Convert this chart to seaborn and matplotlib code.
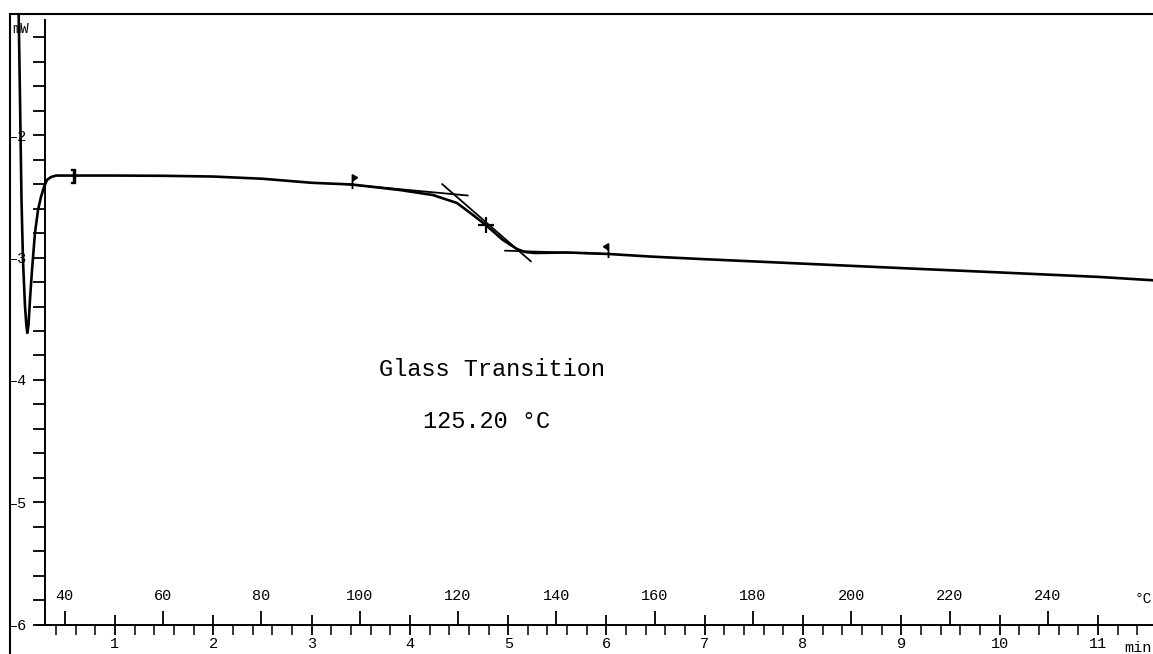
import numpy as np
import pandas as pd
import seaborn as sns
import matplotlib.pyplot as plt
from matplotlib.path import Path
from matplotlib.ticker import FixedLocator

# DSC heat flow curve (time in min, heat flow in mW)
time_min = [0.018, 0.034, 0.049, 0.064, 0.084, 0.098, 0.108, 0.12, 0.135, 0.156,
            0.186, 0.217, 0.247, 0.278, 0.308, 0.349, 0.4, 0.573, 1.0, 1.5,
            2.0, 2.5, 3.0, 3.41, 3.9, 4.235, 4.479, 4.642, 4.77, 4.947,
            5.09, 5.171, 5.272, 5.598, 6.015, 6.443, 6.951, 7.968, 8.985, 10.003,
            11.02, 11.6]
heat_flow = [-0.9, -1.714, -2.531, -3.02, -3.388, -3.551, -3.616, -3.551, -3.347, -3.102,
             -2.8, -2.612, -2.506, -2.424, -2.367, -2.343, -2.331, -2.331, -2.331, -2.333,
             -2.339, -2.357, -2.39, -2.404, -2.449, -2.49, -2.555, -2.653, -2.733, -2.857,
             -2.931, -2.955, -2.963, -2.959, -2.971, -2.992, -3.012, -3.049, -3.086, -3.122,
             -3.159, -3.188]

# evaluation construction lines
onset_tangent_t = [3.30, 4.59]
onset_tangent_y = [-2.398, -2.494]
step_tangent_t = [4.327, 5.232]
step_tangent_y = [-2.400, -3.032]
end_tangent_t = [4.967, 6.015]
end_tangent_y = [-2.944, -2.971]

# evaluation limits, midpoint and start bracket
limit_t = [3.41, 6.015]
limit_y = [-2.404, -2.971]
tg_t = [4.77]
tg_y = [-2.733]
bracket_t = [0.573]
bracket_y = [-2.331]

y_ticks = [-6, -5, -4, -3, -2]
y_labels = ['\u20136', '\u20135', '\u20134', '\u20133', '\u20132']
min_ticks = list(range(1, 12))
temp_ticks = list(range(40, 241, 20))

tg_label = 'Glass Transition'
tg_value = '125.20 °C'


def min_to_c(t):
    return 30.2 + 20.0 * np.asarray(t)


def c_to_min(c):
    return (np.asarray(c) - 30.2) / 20.0


sns.set_theme(style='white')
plt.rcParams['font.family'] = ['Liberation Mono', 'DejaVu Sans']

W, H = 1153, 654
fig = plt.figure(figsize=(W / 100, H / 100), dpi=100)
fig.patch.set_facecolor('white')

# the axes box is the outer frame of the printout
ax = fig.add_axes([10 / W, 0, (W - 10) / W, (H - 14) / H])
ax.set_facecolor('white')

df = pd.DataFrame({'time': time_min, 'heat_flow': heat_flow})
sns.lineplot(data=df, x='time', y='heat_flow', ax=ax, color='black',
             linewidth=1.9, sort=False, estimator=None, legend=False)

lw = 1.3
ax.plot(onset_tangent_t, onset_tangent_y, color='black', lw=lw)
ax.plot(step_tangent_t, step_tangent_y, color='black', lw=lw)
ax.plot(end_tangent_t, end_tangent_y, color='black', lw=lw)

flag_right = Path([(0, -0.35), (0, 1), (0.45, 0.75), (0, 0.45)],
                  [Path.MOVETO, Path.LINETO, Path.LINETO, Path.LINETO])
flag_left = Path([(0, -0.35), (0, 1), (-0.45, 0.75), (0, 0.45)],
                 [Path.MOVETO, Path.LINETO, Path.LINETO, Path.LINETO])
ax.plot(limit_t[:1], limit_y[:1], ls='none', marker=flag_right, ms=15,
        mfc='black', mec='black', mew=1.3)
ax.plot(limit_t[1:], limit_y[1:], ls='none', marker=flag_left, ms=15,
        mfc='black', mec='black', mew=1.3)
ax.plot(tg_t, tg_y, ls='none', marker='+', ms=11, mec='black', mew=1.6)
ax.plot(bracket_t, bracket_y, ls='none', marker=r'$]$', ms=10, mec='black',
        mfc='black')

ax.set_xlim(-0.068, 11.56)
ax.set_ylim(-6.237, -1.012)
ax.set_xlabel('')
ax.set_ylabel('')
ax.set_xticks([])
ax.set_yticks([])
for side in ['right', 'bottom']:
    ax.spines[side].set_visible(False)
for side in ['left', 'top']:
    ax.spines[side].set_visible(True)
    ax.spines[side].set_color('black')
    ax.spines[side].set_linewidth(1.5)

# heat flow axis
yax = ax.secondary_yaxis(0.288, transform=ax.transData)
yax.set_yticks(y_ticks, labels=y_labels)
yax.yaxis.set_minor_locator(FixedLocator(np.arange(-5.8, -1.1, 0.2)))
yax.tick_params(which='both', direction='out', length=9, width=1.3, pad=4,
                labelsize=11, colors='black')
yax.spines['left'].set_bounds(-6, -1.06)
yax.spines['left'].set_linewidth(1.4)
yax.spines['left'].set_color('black')

# time axis
xax = ax.secondary_xaxis(-6, transform=ax.transData)
xax.set_xticks(min_ticks)
xax.xaxis.set_minor_locator(FixedLocator(np.arange(0.4, 11.6, 0.2)))
xax.tick_params(which='major', direction='inout', length=14, width=1.3, pad=2,
                labelsize=11, colors='black')
xax.tick_params(which='minor', direction='out', length=7, width=1.3)
xax.spines['bottom'].set_bounds(0.21, 11.56)
xax.spines['bottom'].set_linewidth(1.4)
xax.spines['bottom'].set_color('black')

# temperature axis on the same line, ticks and labels above
tax = ax.secondary_xaxis(-6, functions=(min_to_c, c_to_min), transform=ax.transData)
tax.set_alignment('top')
tax.set_xticks(temp_ticks)
tax.tick_params(direction='out', length=10, width=1.3, pad=6, labelsize=11,
                colors='black')
tax.spines['top'].set_visible(False)
tax.spines['bottom'].set_visible(False)

ax.text(4.835, -3.967, tg_label, ha='center', va='baseline', fontsize=17,
        color='black')
ax.text(4.78, -4.392, tg_value, ha='center', va='baseline', fontsize=17,
        color='black')
ax.text(11.27, -6.22, 'min', ha='left', va='baseline', fontsize=11, color='black')
ax.text(11.55, -5.82, '°C', ha='right', va='baseline', fontsize=10.5, color='black')
fig.text(12 / W, 1 - 33 / H, 'mW', ha='left', va='baseline', fontsize=10,
         color='black')

fig.savefig('out.png', dpi=100, facecolor='white')
